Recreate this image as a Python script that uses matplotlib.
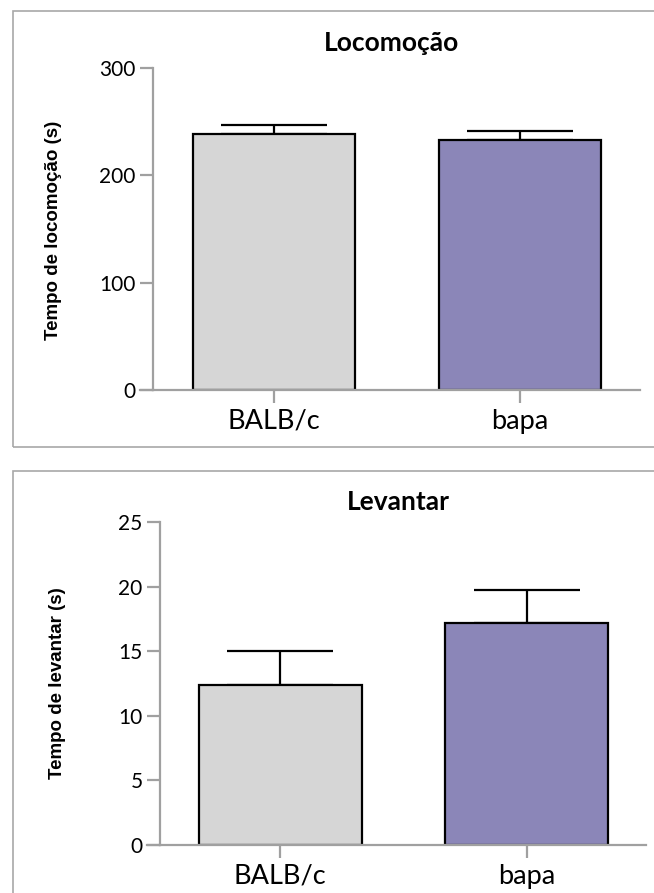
import matplotlib
matplotlib.use("Agg")
import matplotlib.pyplot as plt
from matplotlib.patches import Rectangle
from matplotlib.lines import Line2D

groups = ["BALB/c", "bapa"]
loco_mean = [238.5, 233.0]
loco_sem = [8.5, 8.5]
lev_mean = [12.4, 17.2]
lev_sem = [2.6, 2.55]
bar_colors = ["#d6d6d6", "#8b86b8"]

W, H = 654, 893
fig = plt.figure(figsize=(W / 100, H / 100), dpi=100)

def fx(px):
    return px / W

def fy(py):
    return 1 - py / H

# panel frames
for (x0, y0, x1, y1) in [(13, 11, 660, 447), (13, 471, 660, 900)]:
    fig.add_artist(Rectangle((fx(x0), fy(y1)), fx(x1 - x0), (y1 - y0) / H,
                             transform=fig.transFigure, fill=False,
                             edgecolor="#a8a8a8", lw=1.2, clip_on=False))

tick_font = "Lato"
spine_c = "#a0a0a0"

def panel(left, right, top, bottom, means, sems, ymax, yticks, title, title_xy, ylabel, ylabel_xy, xlims):
    ax = fig.add_axes([fx(left), fy(bottom), fx(right - left), (bottom - top) / H])
    x = list(range(len(groups)))
    ax.bar(x, means, width=0.66, color=bar_colors, edgecolor="black", linewidth=1.6, zorder=2)
    ax.errorbar(x, means, yerr=[[0] * len(sems), sems], fmt="none", ecolor="black",
                elinewidth=1.6, capsize=38, capthick=1.6, zorder=1)
    ax.set_xlim(*xlims)
    ax.set_ylim(0, ymax)
    ax.set_yticks(yticks)
    ax.set_yticklabels([str(t) for t in yticks], fontfamily=tick_font, fontsize=15)
    ax.set_xticks(x)
    ax.set_xticklabels(groups, fontfamily=tick_font, fontsize=19.5)
    for s in ["top", "right"]:
        ax.spines[s].set_visible(False)
    for s in ["left", "bottom"]:
        ax.spines[s].set_color(spine_c)
        ax.spines[s].set_linewidth(1.6)
    ax.tick_params(axis="both", color=spine_c, width=1.6, length=9.5)
    ax.tick_params(axis="y", pad=3)
    ax.tick_params(axis="x", pad=4)
    # extend x-axis line left to tick end
    axw = right - left
    ax.add_line(Line2D([-13 / axw, 0], [0, 0], transform=ax.transAxes, color=spine_c,
                       lw=1.6, clip_on=False))
    fig.text(fx(title_xy[0]), fy(title_xy[1]), title, ha="center", va="center",
             fontfamily="Lato", fontweight="bold", fontsize=19)
    fig.text(fx(ylabel_xy[0]), fy(ylabel_xy[1]), ylabel, ha="center", va="center",
             rotation=90, fontfamily="Liberation Sans", fontweight="bold", fontsize=13.5)
    return ax

panel(153, 640, 68, 390, loco_mean, loco_sem, 300, [0, 100, 200, 300],
      "Locomoção", (392, 43), "Tempo de locomoção (s)", (54, 230), (-0.492, 1.488))
panel(160, 646, 522.3, 845, lev_mean, lev_sem, 25, [0, 5, 10, 15, 20, 25],
      "Levantar", (398, 502), "Tempo de levantar (s)", (58, 683), (-0.486, 1.482))

fig.savefig("out.png", dpi=100)
